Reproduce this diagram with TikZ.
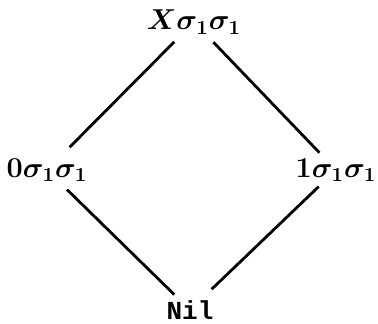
\documentclass[tikz,border=0pt]{standalone}
\usepackage{fontspec}
\newfontfamily\nilfont{Liberation Mono}
\begin{document}
\begin{tikzpicture}[x=0.5pt,y=0.5pt,
  lbl/.style={font=\Large\boldmath, inner sep=0pt, outer sep=0pt},
  edge/.style={line width=1.4pt}]
\useasboundingbox (0,0) rectangle (378,324);
\node[lbl] (top) at (194,302) {$X\sigma_1\sigma_1$};
\node[lbl] (left) at (47,154) {$0\sigma_1\sigma_1$};
\node[lbl] (right) at (336,154) {$1\sigma_1\sigma_1$};
\node[lbl, font=\nilfont\bfseries\fontsize{13}{15}\selectfont] (bot) at (190,14) {Nil};
\draw[edge, shorten <=14pt, shorten >=16pt] (top.center) -- (left.center);
\draw[edge, shorten <=14pt, shorten >=12pt] (top.center) -- (right.center);
\draw[edge, shorten <=14pt, shorten >=11pt] (left.center) -- (bot.center);
\draw[edge, shorten <=12pt, shorten >=15pt] (right.center) -- (bot.center);
\end{tikzpicture}
\end{document}
